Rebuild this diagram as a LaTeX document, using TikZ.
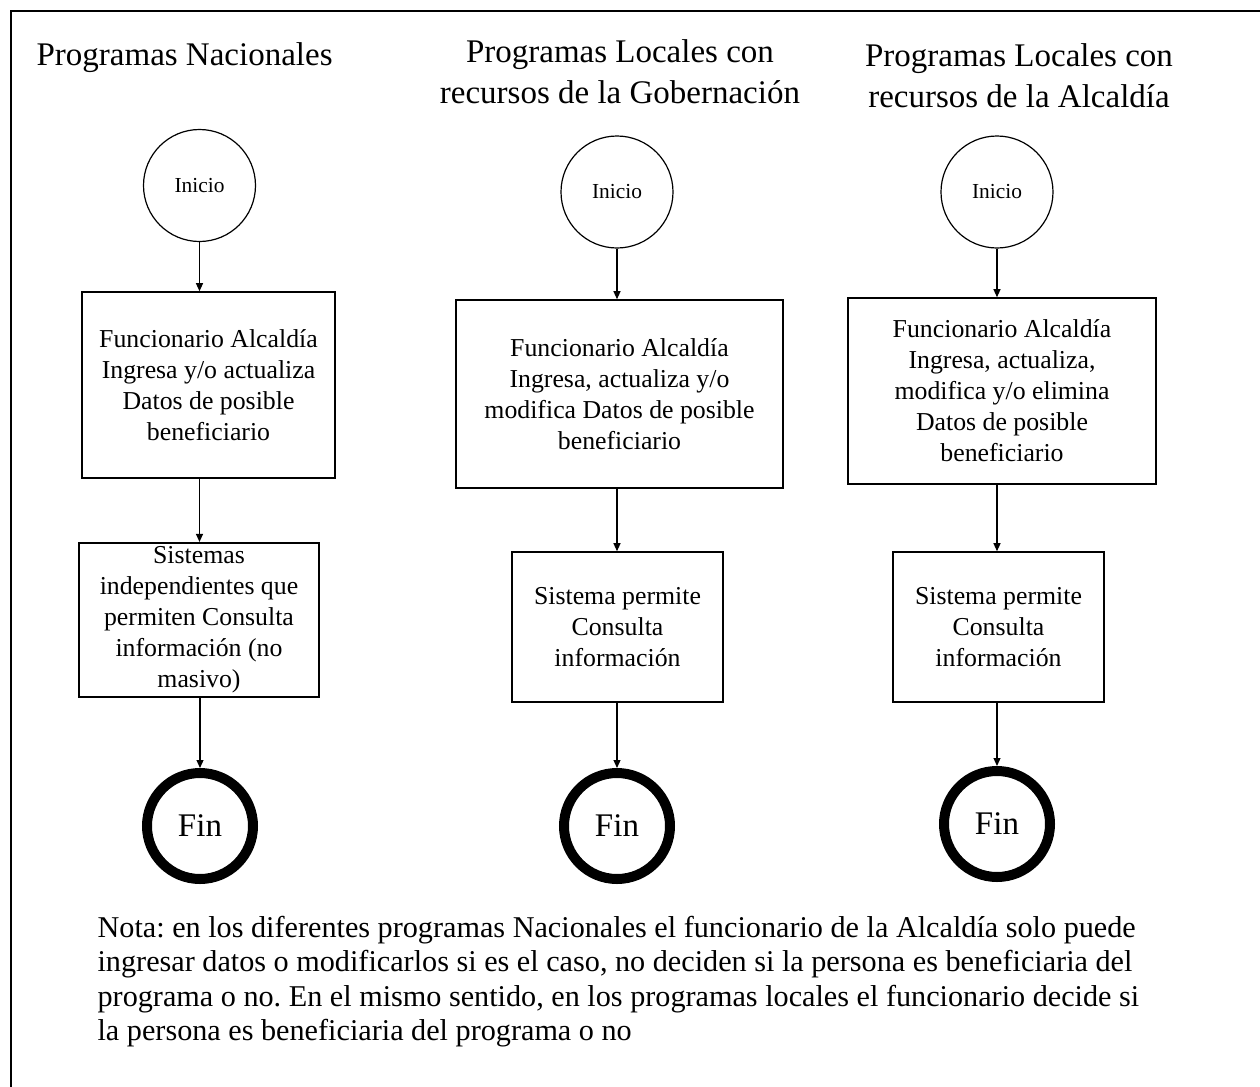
\documentclass[tikz,border=0pt]{standalone}
\usepackage{fontspec}
\setmainfont{Liberation Serif}
\usetikzlibrary{arrows.meta}
\frenchspacing

\begin{document}
\begin{tikzpicture}[x=0.5pt,y=-0.5pt,->,>={Triangle[length=4pt,width=3.5pt]},
    line width=0.6pt,
    start node/.style={circle,draw,minimum size=56pt,inner sep=0pt,font=\fontsize{10.7}{12}\selectfont},
    end node/.style={circle,draw,line width=5pt,minimum size=53pt,inner sep=0pt,font=\fontsize{16.5}{19}\selectfont},
    data node/.style={rectangle,draw,line width=0.8pt,align=center,inner sep=2pt,font=\fontsize{12.9}{15.5}\selectfont},
    head node/.style={align=center,inner sep=0pt,font=\fontsize{16.5}{20.5}\selectfont}]

  \useasboundingbox (0,0) rectangle (1260,1087);
  \draw[-,line width=1pt] (11,1087) -- (11,11) -- (1260,11);

  % titulos
  \node[head node,anchor=west] (t1) at (36,58) {Programas Nacionales};
  \node[head node] (t2) at (620,72) {Programas Locales con\\recursos de la Gobernación};
  \node[head node] (t3) at (1019,76) {Programas Locales con\\recursos de la Alcaldía};

  % Programas Nacionales
  \node[start node] (ini1) at (199.5,185.5) {Inicio};
  \node[data node,minimum width=126.5pt,minimum height=93pt] (dat1) at (208.5,385)
    {Funcionario Alcaldía\\Ingresa y/o actualiza\\Datos de posible\\beneficiario};
  \node[data node,minimum width=120pt,minimum height=75pt] (con1) at (199,620)
    {Sistemas\\independientes que\\permiten Consulta\\información (no\\masivo)};
  \node[end node] (fin1) at (200,826) {Fin};

  % Programas Locales, Gobernacion
  \node[start node] (ini2) at (617,192) {Inicio};
  \node[data node,minimum width=163.5pt,minimum height=94pt] (dat2) at (619.5,394)
    {Funcionario Alcaldía\\Ingresa, actualiza y/o\\modifica Datos de posible\\beneficiario};
  \node[data node,minimum width=105.5pt,minimum height=75pt] (con2) at (617.5,627)
    {Sistema permite\\Consulta\\información};
  \node[end node] (fin2) at (617,826) {Fin};

  % Programas Locales, Alcaldia
  \node[start node] (ini3) at (997,192) {Inicio};
  \node[data node,minimum width=154pt,minimum height=93pt] (dat3) at (1002,391)
    {Funcionario Alcaldía\\Ingresa, actualiza,\\modifica y/o elimina\\Datos de posible\\beneficiario};
  \node[data node,minimum width=105.5pt,minimum height=75pt] (con3) at (998.5,627)
    {Sistema permite\\Consulta\\información};
  \node[end node] (fin3) at (997,824) {Fin};

  \draw (ini1) -- (ini1 |- dat1.north);
  \draw (dat1.south -| ini1) -- (con1.north -| ini1);
  \draw (con1.south -| fin1) -- (fin1);
  \draw (ini2) -- (ini2 |- dat2.north);
  \draw (dat2.south -| ini2) -- (con2.north -| ini2);
  \draw (con2.south -| fin2) -- (fin2);
  \draw (ini3) -- (ini3 |- dat3.north);
  \draw (dat3.south -| ini3) -- (con3.north -| ini3);
  \draw (con3.south -| fin3) -- (fin3);

  % nota
  \node[anchor=base west,align=left,inner sep=0pt,font=\fontsize{15.1}{17.25}\selectfont] (nota) at (97,1040.5)
    {Nota: en los diferentes programas Nacionales el funcionario de la Alcaldía solo puede\\
     ingresar datos o modificarlos si es el caso, no deciden si la persona es beneficiaria del\\
     programa o no. En el mismo sentido, en los programas locales el funcionario decide si\\
     la persona es beneficiaria del programa o no};
\end{tikzpicture}
\end{document}
